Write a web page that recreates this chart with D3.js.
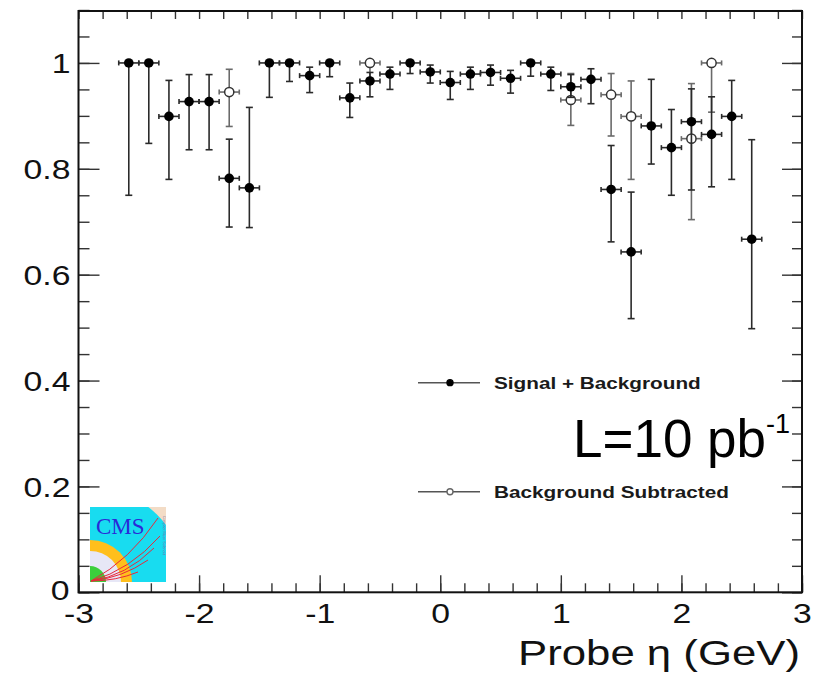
<!DOCTYPE html>
<html>
<head>
<meta charset="utf-8">
<script src="https://cdn.jsdelivr.net/npm/d3@7"></script>
<style>
  body { margin: 0; background: #fff; }
  svg { display: block; font-family: "Liberation Sans", Arial, Helvetica, sans-serif; }
</style>
</head>
<body>
<svg width="818" height="676"></svg>
<script>
    // bin centres in eta (bins of 1/6)
    const etaBins = [-2.583, -2.417, -2.25, -2.083, -1.917, -1.75, -1.583, -1.417, -1.25, -1.083,
      -0.917, -0.75, -0.583, -0.417, -0.25, -0.083, 0.083, 0.25, 0.417, 0.583, 0.75, 0.917,
      1.083, 1.25, 1.417, 1.583, 1.75, 1.917, 2.083, 2.25, 2.417, 2.583];
    const binHalfWidth = 0.0833;

    // Signal + Background (filled markers)
    const sigBkg = [1.0, 1.0, 0.899, 0.927, 0.927, 0.782, 0.764, 1.0, 1.0, 0.976, 1.0, 0.934, 0.966,
      0.979, 1.0, 0.983, 0.963, 0.979, 0.982, 0.971, 1.0, 0.979, 0.955, 0.969, 0.761, 0.643,
      0.881, 0.84, 0.889, 0.865, 0.899, 0.667];
    const sigBkgLo = [0.75, 0.848, 0.78, 0.836, 0.836, 0.69, 0.689, 0.935, 0.965, 0.944, 0.974, 0.897,
      0.936, 0.95, 0.98, 0.962, 0.931, 0.95, 0.958, 0.943, 0.975, 0.948, 0.935, 0.923, 0.662,
      0.517, 0.809, 0.75, 0.76, 0.766, 0.78, 0.498];
    const sigBkgHi = [1.0, 1.0, 0.967, 0.978, 0.978, 0.856, 0.916, 1.0, 1.0, 0.992, 1.0, 0.962, 0.982,
      0.992, 1.0, 0.996, 0.984, 0.992, 0.996, 0.986, 1.0, 0.992, 0.978, 0.989, 0.844, 0.756,
      0.969, 0.912, 0.951, 0.936, 0.967, 0.855];

    // Background Subtracted (open markers), null where hidden under the filled ones
    const bkgSub = [null, null, null, null, null, 0.945, null, null, null, null, null, null, 1.0,
      null, null, null, null, null, null, null, null, null, 0.93, null, 0.94, 0.899,
      null, null, 0.857, 1.0, null, null];
    const bkgSubLo = [null, null, null, null, null, 0.880, null, null, null, null, null, null, 0.965,
      null, null, null, null, null, null, null, null, null, 0.882, null, 0.862, 0.78,
      null, null, 0.704, 0.907, null, null];
    const bkgSubHi = [null, null, null, null, null, 0.988, null, null, null, null, null, null, 1.0,
      null, null, null, null, null, null, null, null, null, 0.98, null, 0.98, 0.966,
      null, null, 0.961, 1.0, null, null];

    const xMajorTicks = [-3, -2, -1, 0, 1, 2, 3];
    const yMajorTicks = [0, 0.2, 0.4, 0.6, 0.8, 1.0];
    const legendLabels = ['Signal + Background', 'Background Subtracted'];

    const svg = d3.select('svg');
    const stretch = 1.25; // ROOT text in the picture is stretched horizontally

    const xScale = d3.scaleLinear().domain([-3, 3]).range([78.5, 802]);
    const yScale = d3.scaleLinear().domain([0, 1.1]).range([592.3, 10]);
    const x0 = xScale.range()[0], x1 = xScale.range()[1];
    const yB = yScale(0), yT = 11;

    // CMS logo (drawn under the frame)
    const logo = svg.append('g').attr('transform', 'translate(90,582)');
    svg.append('defs').append('clipPath').attr('id', 'logoclip')
      .append('rect').attr('x', 0).attr('y', -75).attr('width', 76).attr('height', 75);
    const lg = logo.append('g').attr('clip-path', 'url(#logoclip)');
    lg.append('rect').attr('x', 0).attr('y', -75).attr('width', 76).attr('height', 75).attr('fill', '#f3dcc6');
    const rings = [[95, '#18dcf0'], [42, '#ffbf1c'], [31, '#e7e7f6'], [16, '#3ccf3c']];
    rings.forEach(function(r) {
      lg.append('path')
        .attr('d', d3.arc()({ innerRadius: 0, outerRadius: r[0], startAngle: 0, endAngle: Math.PI / 2 }))
        .attr('fill', r[1]);
    });
    const tracks = [[68, -64, 40, -22], [70, -46, 40, -12], [64, -34, 36, -6], [58, -22, 32, -4], [48, -10, 26, -1]];
    tracks.forEach(function(t) {
      lg.append('path')
        .attr('d', 'M1,-1 Q' + t[2] + ',' + t[3] + ' ' + t[0] + ',' + t[1])
        .attr('fill', 'none').attr('stroke', '#e8283a').attr('stroke-width', 1);
    });
    lg.append('text').attr('x', 6).attr('y', -48).text('CMS')
      .attr('font-family', '"Liberation Serif", "DejaVu Serif", serif')
      .attr('font-size', 23).attr('fill', '#2a2ad8');
    lg.append('text').attr('transform', 'translate(73,-66) rotate(90)')
      .text('Compact Muon Solenoid').attr('font-size', 3.6).attr('fill', '#7a6aa8');

    // axes: ticks pointing inward, ROOT style
    function minorRange(a, b, step) {
      const out = [];
      for (let v = a; v <= b + 1e-9; v += step) out.push(+v.toFixed(3));
      return out;
    }
    const xMinor = minorRange(-3, 3, 0.2);
    const yMinor = minorRange(0, 1.1, 0.05);
    const plainFormat = function(d) { return String(d); };

    const gXminor = svg.append('g').attr('transform', 'translate(0,' + yB + ')')
      .call(d3.axisBottom(xScale).tickValues(xMinor).tickSize(-9).tickFormat(''));
    const gX = svg.append('g').attr('transform', 'translate(0,' + yB + ')')
      .call(d3.axisBottom(xScale).tickValues(xMajorTicks).tickSize(-17).tickFormat(plainFormat));
    const gXtop = svg.append('g').attr('transform', 'translate(0,' + yT + ')')
      .call(d3.axisTop(xScale).tickValues(xMinor).tickSize(-8).tickFormat(''));
    const gYminor = svg.append('g').attr('transform', 'translate(' + x0 + ',0)')
      .call(d3.axisLeft(yScale).tickValues(yMinor).tickSize(-11).tickFormat(''));
    const gY = svg.append('g').attr('transform', 'translate(' + x0 + ',0)')
      .call(d3.axisLeft(yScale).tickValues(yMajorTicks).tickSize(-21).tickFormat(plainFormat));
    const gYRminor = svg.append('g').attr('transform', 'translate(' + x1 + ',0)')
      .call(d3.axisRight(yScale).tickValues(yMinor).tickSize(-10).tickFormat(''));
    const gYR = svg.append('g').attr('transform', 'translate(' + x1 + ',0)')
      .call(d3.axisRight(yScale).tickValues(yMajorTicks).tickSize(-20).tickFormat(''));

    [gXminor, gX, gXtop, gYminor, gY, gYRminor, gYR].forEach(function(g) {
      g.select('.domain').remove();
      g.selectAll('.tick line').attr('stroke', '#333').attr('stroke-width', 1.4);
    });
    gX.selectAll('.tick text')
      .attr('y', 0).attr('dy', 0)
      .attr('transform', 'translate(0,31) scale(' + stretch + ',1)')
      .attr('font-size', 27).attr('fill', '#111');
    gY.selectAll('.tick text')
      .attr('x', 0).attr('dy', '0.36em')
      .attr('transform', function(d) { return 'translate(' + (d === 0 ? -9 : -8) + ',' + (d === 0 ? -3 : 0) + ') scale(' + stretch + ',1)'; })
      .attr('font-size', 27).attr('fill', '#111');
    svg.selectAll('.tick text').attr('font-family', '"Liberation Sans", Arial, sans-serif');

    // frame
    svg.append('rect')
      .attr('x', x0).attr('y', yT).attr('width', x1 - x0).attr('height', yB - yT)
      .attr('fill', 'none').attr('stroke', '#111').attr('stroke-width', 2);

    // error bars + markers
    function drawSeries(vals, lo, hi, color, filled) {
      const g = svg.append('g');
      etaBins.forEach(function(eta, i) {
        const v = vals[i];
        if (v === null) return;
        const cx = xScale(eta), cy = yScale(v);
        const xl = xScale(eta - binHalfWidth), xr = xScale(eta + binHalfWidth);
        const yl = yScale(lo[i]), yh = yScale(hi[i]);
        function line(a, b, c, d) {
          g.append('line').attr('x1', a).attr('y1', b).attr('x2', c).attr('y2', d)
            .attr('stroke', color).attr('stroke-width', 1.6);
        }
        line(cx, yh, cx, yl);
        if (hi[i] > v) line(cx - 3.5, yh, cx + 3.5, yh);
        if (lo[i] < v) line(cx - 3.5, yl, cx + 3.5, yl);
        line(xl, cy, xr, cy);
        line(xl, cy - 2.5, xl, cy + 2.5);
        line(xr, cy - 2.5, xr, cy + 2.5);
        g.append('circle').attr('cx', cx).attr('cy', cy).attr('r', filled ? 4.8 : 4.6)
          .attr('fill', filled ? '#000' : '#fff')
          .attr('stroke', filled ? '#000' : '#333').attr('stroke-width', filled ? 0 : 1.5);
      });
    }
    drawSeries(bkgSub, bkgSubLo, bkgSubHi, '#6a6a6a', false);
    drawSeries(sigBkg, sigBkgLo, sigBkgHi, '#2a2a2a', true);

    // legend
    const legendY = [yScale(0.396), yScale(0.19)];
    legendLabels.forEach(function(lab, i) {
      const g = svg.append('g').attr('transform', 'translate(0,' + legendY[i] + ')');
      g.append('line').attr('x1', 418).attr('x2', 480).attr('y1', 0).attr('y2', 0)
        .attr('stroke', '#555').attr('stroke-width', 1.5);
      g.append('circle').attr('cx', 450).attr('cy', 0).attr('r', 3)
        .attr('fill', i === 0 ? '#000' : '#fff').attr('stroke', i === 0 ? '#000' : '#666')
        .attr('stroke-width', 1.4);
      g.append('text').attr('transform', 'translate(494,6) scale(' + stretch + ',1)')
        .attr('font-size', 16.6).attr('font-weight', 'bold').attr('fill', '#1a1a1a')
        .text(lab);
    });

    // luminosity label
    const lum = svg.append('text').attr('x', 573).attr('y', 457)
      .attr('font-size', 53).attr('fill', '#000');
    lum.append('tspan').text('L=10 pb');
    lum.append('tspan').attr('dy', -24).attr('font-size', 27).text('-1');

    // axis title
    svg.append('text')
      .attr('transform', 'translate(800,665) scale(' + stretch + ',1)')
      .attr('text-anchor', 'end').attr('font-size', 35).attr('fill', '#111')
      .text('Probe η (GeV)');
</script>
</body>
</html>
